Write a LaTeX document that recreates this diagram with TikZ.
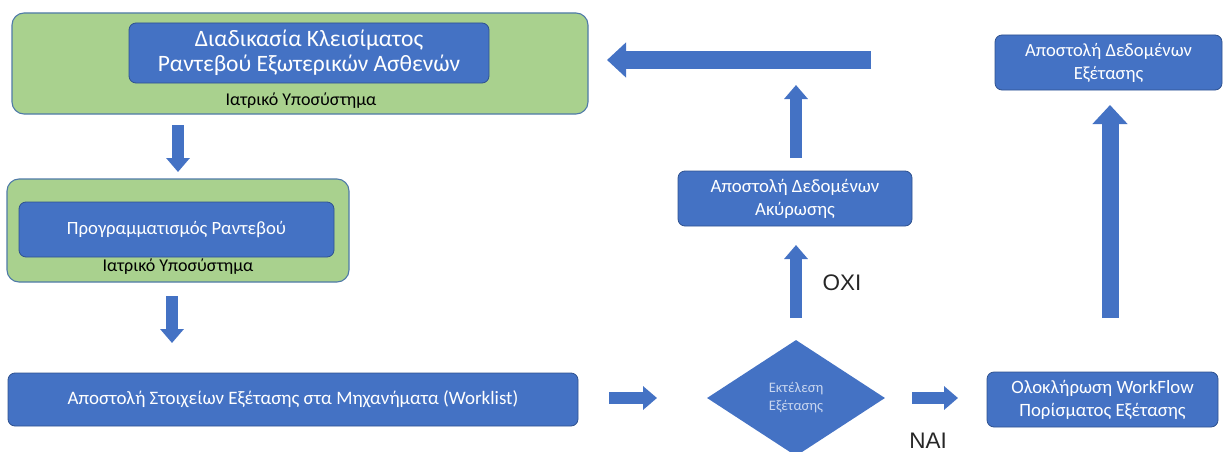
\documentclass[tikz,border=0pt]{standalone}
\usepackage{fontspec}
\setmainfont{Carlito}
\newfontfamily\arialf{Liberation Sans}
\usetikzlibrary{shapes.geometric,arrows.meta}
\definecolor{offblue}{HTML}{4472C4}
\definecolor{offblueline}{HTML}{2F528F}
\definecolor{offgreen}{HTML}{A9D18E}
\definecolor{greenline}{HTML}{4F7AA8}
\definecolor{diatext}{HTML}{C9D6EF}
\tikzset{
  greenbox/.style={draw=greenline, line width=1.1pt, fill=offgreen, rounded corners=12pt, inner sep=0pt},
  bluebox/.style={draw=offblueline, line width=0.8pt, fill=offblue, rounded corners=7pt, text=white, align=center, inner sep=0pt},
  sublabel/.style={text=black, font=\fontsize{18}{20}\selectfont, inner sep=0pt},
  decision/.style={shape=diamond, fill=offblue, draw=none, inner sep=0pt, text=diatext, align=center},
  yesno/.style={font=\arialf\fontsize{22.5}{24}\selectfont, text=black!85, inner sep=0pt},
  smallarrow/.style={draw=offblue, line width=11.5pt, -{Triangle[width=23pt,length=14pt]}},
  bigarrow/.style={draw=offblue, line width=17pt, -{Triangle[width=34pt,length=19pt]}}
}
\begin{document}
\begin{tikzpicture}[x=1pt,y=-1pt]
\useasboundingbox (0,0) rectangle (1225,452);
% left column
\node[greenbox, minimum width=576pt, minimum height=101pt] (g1) at (300,63.5) {};
\node[bluebox, minimum width=360pt, minimum height=60pt, font=\fontsize{23.5}{25}\selectfont] (t1) at (309,53) {Διαδικασία Κλεισίματος\\Ραντεβού Εξωτερικών Ασθενών};
\node[sublabel] (l1) at (301,101) {Ιατρικό Υποσύστημα};

\node[greenbox, minimum width=342pt, minimum height=103pt] (g2) at (178,230.5) {};
\node[bluebox, minimum width=315pt, minimum height=55pt, font=\fontsize{18.7}{22}\selectfont] (t2) at (176.5,229.5) {Προγραμματισμός Ραντεβού};
\node[sublabel] (l2) at (178,267) {Ιατρικό Υποσύστημα};

\node[bluebox, minimum width=570pt, minimum height=53pt, font=\fontsize{19}{22}\selectfont] (wl) at (293,399.5) {Αποστολή Στοιχείων Εξέτασης στα Μηχανήματα (Worklist)};

% decision
\node[decision, minimum width=178pt, minimum height=116pt, font=\fontsize{14.5}{18}\selectfont] (dia) at (796,398) {Εκτέλεση\\Εξέτασης};

% right boxes
\node[bluebox, minimum width=234pt, minimum height=55pt, font=\fontsize{18.8}{23}\selectfont] (ak) at (795,198.5) {Αποστολή Δεδομένων\\Ακύρωσης};
\node[bluebox, minimum width=227pt, minimum height=55pt, font=\fontsize{18.6}{23}\selectfont] (ex) at (1108.5,62.5) {Αποστολή Δεδομένων\\Εξέτασης};
\node[bluebox, minimum width=231pt, minimum height=55pt, font=\fontsize{18.8}{23}\selectfont] (wf) at (1102.5,399.5) {Ολοκλήρωση WorkFlow\\Πορίσματος Εξέτασης};

% labels
\node[yesno] (oxi) at (842,283) {OXI};
\node[yesno, anchor=south] (nai) at (928,449) {NAI};

% arrow end points
\coordinate (a1s) at (178,125); \coordinate (a1e) at (178,172);
\coordinate (a2s) at (172,296); \coordinate (a2e) at (172,343);
\coordinate (a3s) at (609,398); \coordinate (a3e) at (657,398);
\coordinate (a4s) at (912,398); \coordinate (a4e) at (958,398);
\coordinate (a5s) at (796,318); \coordinate (a5e) at (796,245);
\coordinate (a6s) at (796,158); \coordinate (a6e) at (796,85);
\coordinate (a7s) at (871,60);  \coordinate (a7e) at (607,60);
\coordinate (a8s) at (1110,318); \coordinate (a8e) at (1110,105);

\draw[smallarrow] (a1s) -- (a1e);
\draw[smallarrow] (a2s) -- (a2e);
\draw[smallarrow] (a3s) -- (a3e);
\draw[smallarrow] (a4s) -- (a4e);
\draw[smallarrow] (a5s) -- (a5e);
\draw[smallarrow] (a6s) -- (a6e);
\draw[bigarrow] (a7s) -- (a7e);
\draw[bigarrow] (a8s) -- (a8e);
\end{tikzpicture}
\end{document}
